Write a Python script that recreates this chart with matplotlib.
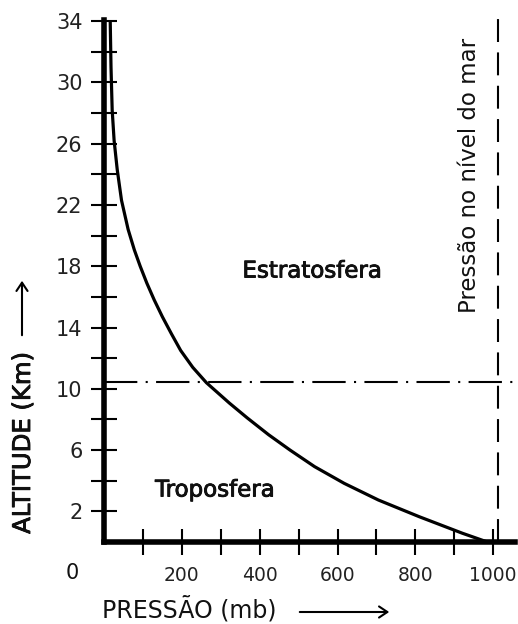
import matplotlib
matplotlib.use("Agg")
import matplotlib.pyplot as plt
import matplotlib.patheffects as pe

# Data
altitude_km = [0.0, 0.57, 1.65, 2.74, 3.83, 4.92, 6.0, 7.0, 8.1, 9.07, 10.4, 11.4,
               12.5, 13.6, 14.7, 15.8, 16.9, 18.0, 19.06, 20.4, 22.3, 24.3, 26.2, 28.2, 31.0, 34.0]
pressure_mb = [985, 921, 810, 705, 617, 541, 478, 423, 368, 322, 263, 228,
               197, 173, 150, 129, 110, 93, 78, 62, 45, 34, 26, 21, 18, 16]
tropopause_km = 10.45
sea_level_mb = 1013
y_ticks = list(range(2, 35, 2))
y_labels = [str(v) if (v - 2) % 4 == 0 else "" for v in y_ticks]
x_ticks = list(range(100, 1001, 100))
x_labels = [str(v) if v % 200 == 0 else "" for v in x_ticks]

W, H = 518, 624
fig = plt.figure(figsize=(W / 100, H / 100), dpi=100)
ax = fig.add_axes([104 / W, 1 - 542 / H, 411 / W, 522 / H])
ax.set_xlim(0, 1056)
ax.set_ylim(0, 34.07)

FONT = "DejaVu Sans"
heavy = [pe.withStroke(linewidth=0.6, foreground="black")]

ax.plot(pressure_mb, altitude_km, color="black", lw=2.3, solid_capstyle="butt",
        solid_joinstyle="round", zorder=3)
ax.axhline(tropopause_km, color="black", lw=1.5, linestyle=(0, (16, 4, 1, 4)), zorder=2)
ax.plot([sea_level_mb, sea_level_mb], [0, 34.6], color="black", lw=1.5,
        linestyle=(0, (11, 5)), clip_on=False, zorder=2)

for s in ["top", "right"]:
    ax.spines[s].set_visible(False)
for s in ["left", "bottom"]:
    ax.spines[s].set_linewidth(4)
    ax.spines[s].set_capstyle("projecting")

ax.set_yticks(y_ticks)
ax.set_yticklabels(y_labels)
ax.set_xticks(x_ticks)
ax.set_xticklabels(x_labels)
ax.tick_params(axis="both", direction="inout", length=19, width=1.5, colors="black")
ax.tick_params(axis="y", pad=6, labelsize=15)
ax.tick_params(axis="x", pad=8, labelsize=13.5)
for lab in ax.get_xticklabels() + ax.get_yticklabels():
    lab.set_fontfamily(FONT)
    lab.set_color("#222222")

def ftext(x, y, s, **kw):
    fig.text(x / W, 1 - y / H, s, family=FONT, color="#111111", ha="center", va="center", **kw)

ftext(72, 573, "0", fontsize=15)
ftext(312, 271, "Estratosfera", fontsize=16.5, path_effects=heavy)
ftext(215, 490, "Troposfera", fontsize=16.5, path_effects=heavy)
ftext(470, 175, "Pressão no nível do mar", fontsize=16.5, rotation=90)
ftext(189, 609, "PRESSÃO (mb)", fontsize=17)
ftext(23, 443, "ALTITUDE (Km)", fontsize=17.5, rotation=90, path_effects=heavy)

fig.add_artist(matplotlib.patches.FancyArrowPatch(
    (297 / W, 1 - 612 / H), (392 / W, 1 - 612 / H), transform=fig.transFigure,
    arrowstyle="->,head_length=6,head_width=4", lw=1.5, color="black"))
fig.add_artist(matplotlib.patches.FancyArrowPatch(
    (22 / W, 1 - 338 / H), (22 / W, 1 - 278 / H), transform=fig.transFigure,
    arrowstyle="->,head_length=6,head_width=4", lw=1.5, color="black"))

fig.savefig("out.png", dpi=100)
